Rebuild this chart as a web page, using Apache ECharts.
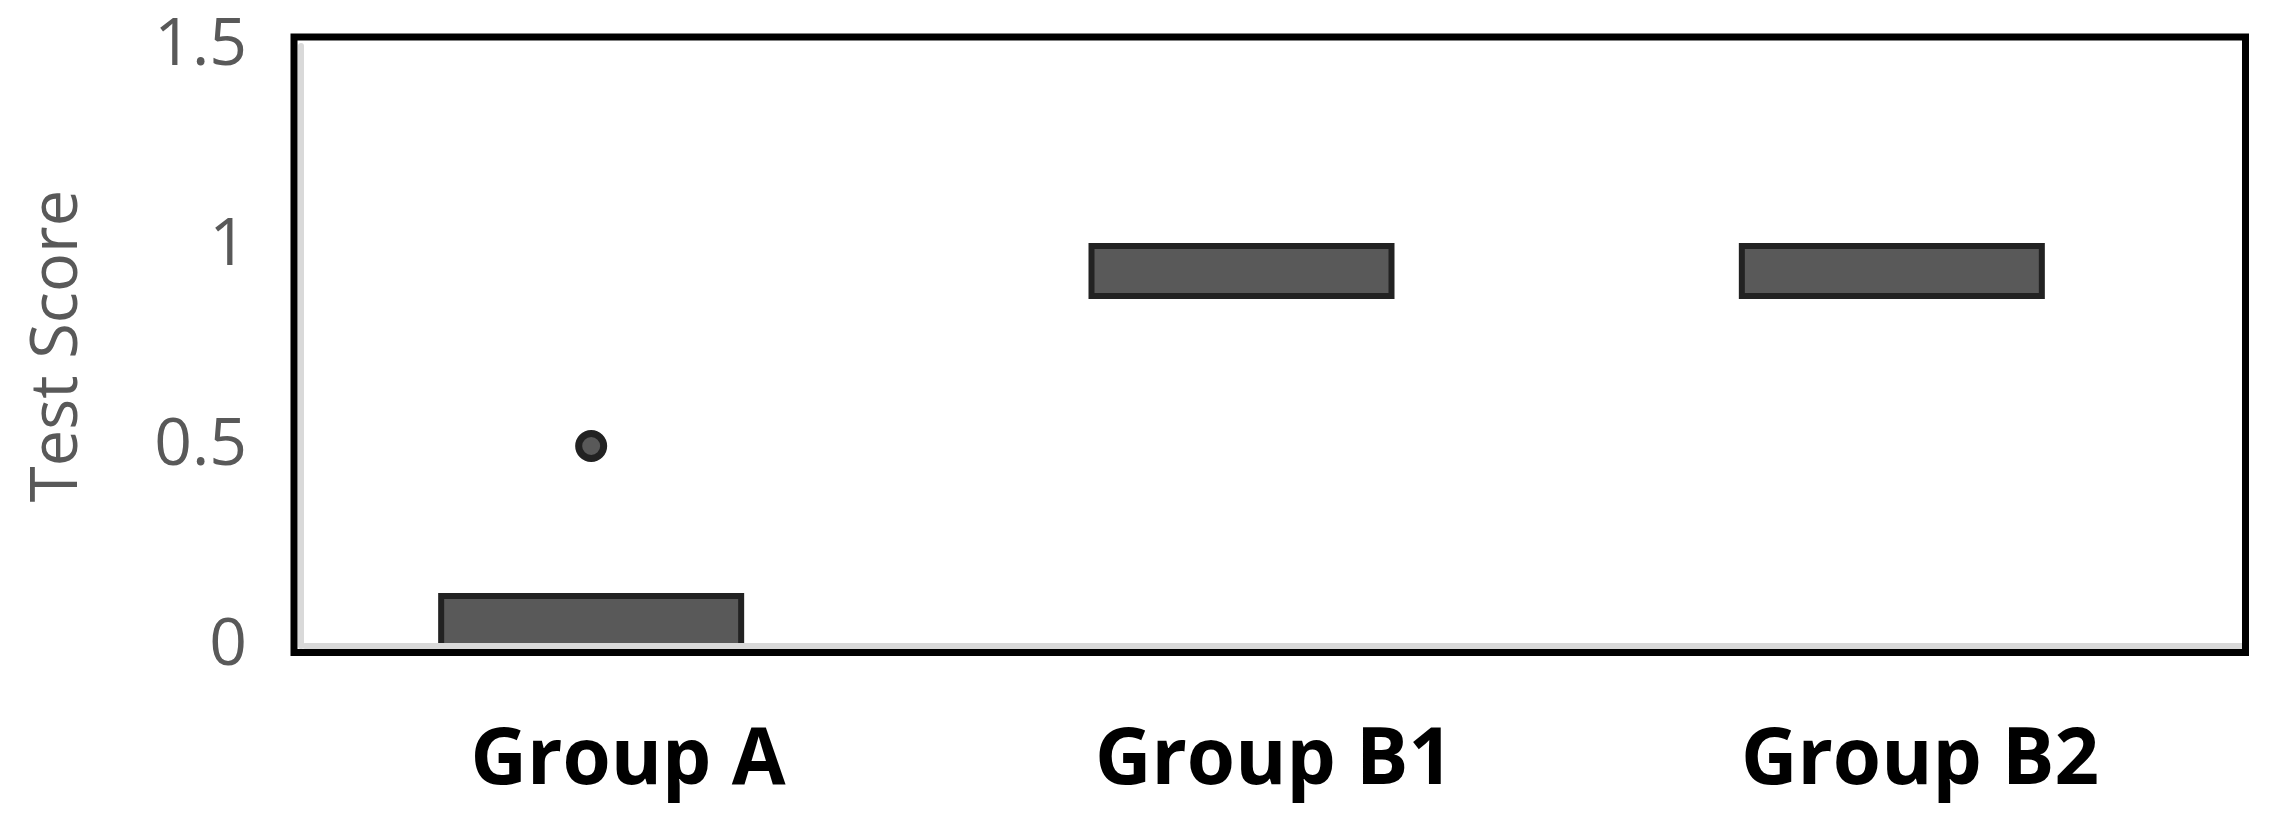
<!DOCTYPE html>
<html>
<head>
<meta charset="utf-8">
<style>
    html, body { margin: 0; padding: 0; background: #fff; }
    #chart { width: 2275px; height: 840px; }
</style>
</head>
<body>
<div id="chart"></div>
<script src="https://cdn.jsdelivr.net/npm/echarts@6/dist/echarts.min.js"></script>
<script>
// 数据
var categories = ['Group A', 'Group B1', 'Group B2'];
// 箱线图 [min, Q1, median, Q3, max]
var boxValues = [
    [0, 0, 0, 0.125, 0.125],
    [0.875, 0.875, 1, 1, 1],
    [0.875, 0.875, 1, 1, 1]
];
// 离群点 [类目序号, 值]
var outliers = [[0, 0.5]];
// y轴刻度
var yTicks = [0, 0.5, 1, 1.5];

(function() {
    var myChart = echarts.init(document.getElementById('chart'));
    var font = '"Open Sans", "Noto Sans", sans-serif';
    var yMin = yTicks[0];
    var yMax = yTicks[yTicks.length - 1];
    var yStep = yTicks[1] - yTicks[0];

    var option = {
        backgroundColor: '#fff',
        animation: false,
        grid: [
            // 坐标轴和标签
            { left: 305, right: 32, top: 46, bottom: 194 },
            // 箱体 (稍微左移)
            { left: 266, right: 58, top: 46, bottom: 194 }
        ],
        xAxis: [{
            gridIndex: 0,
            type: 'category',
            data: categories,
            z: 5,
            axisTick: { show: false },
            axisLine: {
                lineStyle: { color: '#d9d9d9', width: 6 }
            },
            axisLabel: {
                color: '#000',
                fontFamily: font,
                fontWeight: 'bold',
                fontSize: 78,
                margin: 77
            }
        }, {
            gridIndex: 1,
            type: 'category',
            data: categories,
            show: false
        }],
        yAxis: [{
            gridIndex: 0,
            type: 'value',
            min: yMin,
            max: yMax,
            interval: yStep,
            offset: 4,
            z: 5,
            axisLine: {
                show: true,
                lineStyle: { color: '#d9d9d9', width: 6 }
            },
            axisTick: { show: false },
            splitLine: { show: false },
            axisLabel: {
                color: '#595959',
                fontFamily: font,
                fontSize: 66,
                margin: 54
            },
            name: 'Test Score',
            nameLocation: 'middle',
            nameGap: 210,
            nameTextStyle: {
                color: '#595959',
                fontFamily: font,
                fontSize: 65
            }
        }, {
            gridIndex: 1,
            type: 'value',
            min: yMin,
            max: yMax,
            show: false
        }],
        series: [{
            type: 'boxplot',
            xAxisIndex: 1,
            yAxisIndex: 1,
            data: boxValues,
            boxWidth: [300, 300],
            itemStyle: {
                color: '#595959',
                borderColor: '#222',
                borderWidth: 6
            }
        }, {
            type: 'scatter',
            xAxisIndex: 1,
            yAxisIndex: 1,
            data: outliers,
            symbolSize: 25,
            itemStyle: {
                color: '#595959',
                borderColor: '#222',
                borderWidth: 7,
                opacity: 1
            }
        }],
        // 外框
        graphic: [{
            type: 'rect',
            z: 100,
            silent: true,
            shape: { x: 294, y: 37, width: 1951.5, height: 615.5 },
            style: { fill: null, stroke: '#000', lineWidth: 7 }
        }]
    };
    myChart.setOption(option);
    window.addEventListener('resize', function() {
        myChart.resize();
    });
})();
</script>
</body>
</html>
